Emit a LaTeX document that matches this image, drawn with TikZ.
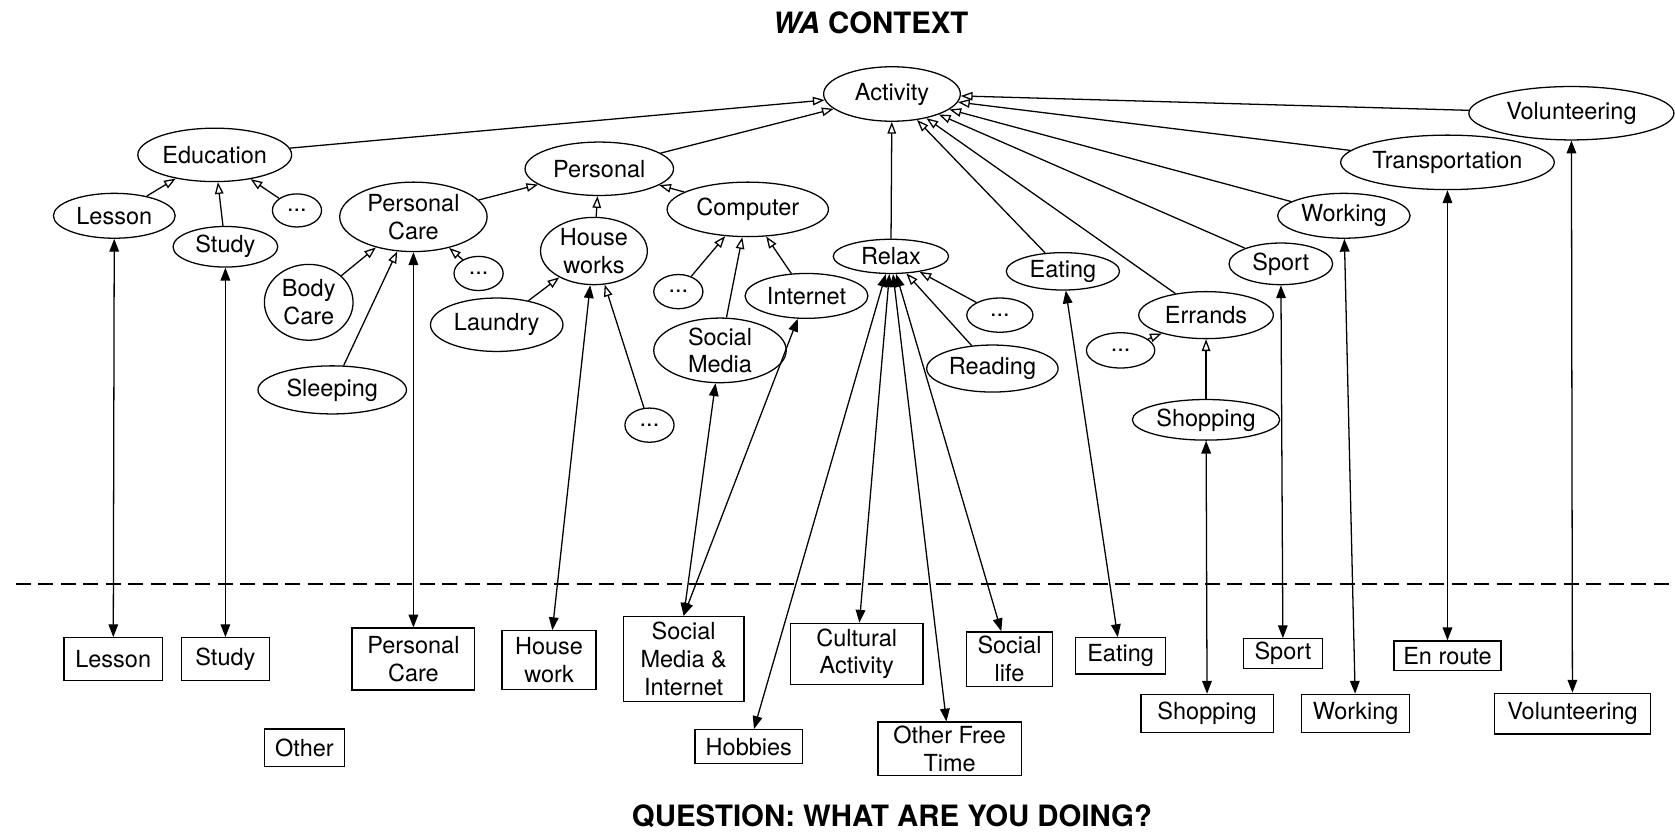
\documentclass[tikz,border=0pt]{standalone}
\usepackage{fontspec}
\setmainfont{TeX Gyre Heros}
\usetikzlibrary{shapes.geometric,arrows.meta}

\begin{document}
\begin{tikzpicture}[
    x=0.5pt, y=-0.5pt,
    sz/.style 2 args={minimum width=#1*0.5pt, minimum height=#2*0.5pt},
    concept/.style={ellipse, draw, semithick, inner sep=0pt, align=center, font=\fontsize{11}{13}\selectfont},
    datum/.style={rectangle, draw, semithick, inner sep=1pt, align=center, font=\fontsize{11}{13}\selectfont},
    isa/.style={-{Triangle[open, length=5.5pt, width=4pt]}, semithick},
    link/.style={{Triangle[length=6pt, width=4.5pt]}-{Triangle[length=6pt, width=4.5pt]}, semithick},
    heading/.style={font=\fontsize{13.75}{16}\selectfont\bfseries}
]
    \useasboundingbox (0,0) rectangle (1568,780);

    % titles
    \node [heading] (title) at (815,21) {\textit{WA} CONTEXT};
    \node [heading] (question) at (835,764) {QUESTION: WHAT ARE YOU DOING?};

    % ontology
    \node [concept, sz={128}{51}] (act) at (835,88) {Activity};
    \node [concept, sz={144}{50}] (edu) at (201,145) {Education};
    \node [concept, sz={114}{42}] (lessonE) at (107,202) {Lesson};
    \node [concept, sz={98}{38}] (studyE) at (211,231) {Study};
    \node [concept, sz={46}{31}] (dotsA) at (278,197) {...};
    \node [concept, sz={139}{50}] (persE) at (561,158) {Personal};
    \node [concept, sz={138}{65}] (pcareE) at (387,203) {Personal\\Care};
    \node [concept, sz={83}{71}] (bodyE) at (289,283) {Body\\Care};
    \node [concept, sz={46}{32}] (dotsB) at (448,256) {...};
    \node [concept, sz={139}{45}] (sleepE) at (311,365) {Sleeping};
    \node [concept, sz={100}{63}] (houseE) at (556,235) {House\\works};
    \node [concept, sz={124}{50}] (laundryE) at (465,304) {Laundry};
    \node [concept, sz={46}{32}] (dotsC) at (608,398) {...};
    \node [concept, sz={151}{51}] (compE) at (700,196) {Computer};
    \node [concept, sz={46}{32}] (dotsD) at (635,273) {...};
    \node [concept, sz={115}{42}] (internetE) at (755,277) {Internet};
    \node [concept, sz={124}{55}] (socmedE) at (674,328) {Social\\Media};
    \node [concept, sz={108}{32}] (relaxE) at (834,240) {Relax};
    \node [concept, sz={62}{32}] (dotsE) at (936,295) {...};
    \node [concept, sz={123}{44}] (readingE) at (929,345) {Reading};
    \node [concept, sz={106}{35}] (eatingE) at (995,254) {Eating};
    \node [concept, sz={126}{44}] (errandsE) at (1129,295) {Errands};
    \node [concept, sz={64}{33}] (dotsF) at (1049,328) {...};
    \node [concept, sz={138}{38}] (shopE) at (1129,393) {Shopping};
    \node [concept, sz={97}{39}] (sportE) at (1199,247) {Sport};
    \node [concept, sz={124}{42}] (workE) at (1258,202) {Working};
    \node [concept, sz={200}{51}] (transE) at (1355,152) {Transportation};
    \node [concept, sz={192}{50}] (volE) at (1471,106) {Volunteering};

    % answers
    \node [datum, sz={92}{40}] (lessonB) at (106,617) {Lesson};
    \node [datum, sz={82}{40}] (studyB) at (211,617) {Study};
    \node [datum, sz={115}{58}] (pcareB) at (387,617) {Personal\\Care};
    \node [datum, sz={75}{35}] (otherB) at (285,700) {Other};
    \node [datum, sz={88}{55}] (houseB) at (514,618) {House\\work};
    \node [datum, sz={113}{80}] (smiB) at (640,617) {Social\\Media \&\\Internet};
    \node [datum, sz={101}{32}] (hobbB) at (701,699) {Hobbies};
    \node [datum, sz={124}{57}] (cultB) at (802,612) {Cultural\\Activity};
    \node [datum, sz={134}{50}] (oftB) at (889,701) {Other Free\\Time};
    \node [datum, sz={81}{51}] (socB) at (945,617) {Social\\life};
    \node [datum, sz={84}{34}] (eatB) at (1049,614) {Eating};
    \node [datum, sz={124}{36}] (shopB) at (1130,668) {Shopping};
    \node [datum, sz={74}{28}] (sportB) at (1201,612) {Sport};
    \node [datum, sz={101}{36}] (workB) at (1269,668) {Working};
    \node [datum, sz={100}{28}] (enrB) at (1355,614) {En route};
    \node [datum, sz={146}{38}] (volB) at (1472,668) {Volunteering};

    % separator
    \coordinate (sepL) at (15,547);
    \coordinate (sepR) at (1568,547);
    \draw [dash pattern=on 7pt off 3.5pt, line width=1pt] (sepL) -- (sepR);

    % is-a
    \foreach \a/\b in {edu/act, persE/act, relaxE/act, eatingE/act, errandsE/act, sportE/act, workE/act, transE/act, volE/act,
        lessonE/edu, studyE/edu, dotsA/edu,
        pcareE/persE, houseE/persE, compE/persE,
        bodyE/pcareE, sleepE/pcareE, dotsB/pcareE,
        laundryE/houseE, dotsC/houseE,
        dotsD/compE, socmedE/compE, internetE/compE,
        dotsE/relaxE, readingE/relaxE,
        dotsF/errandsE, shopE/errandsE}
        \draw [isa] (\a) -- (\b);

    % mapping
    \foreach \a/\b in {lessonB/lessonE, studyB/studyE, pcareB/pcareE, houseB/houseE,
        hobbB/relaxE, cultB/relaxE, oftB/relaxE, socB/relaxE,
        eatB/eatingE, shopB/shopE, sportB/sportE, workB/workE, enrB/transE, volB/volE}
        \draw [link] (\a) -- (\b);
    \draw [link] (smiB.north) -- (socmedE);
    \draw [link] (smiB.north) -- (internetE);
\end{tikzpicture}
\end{document}
